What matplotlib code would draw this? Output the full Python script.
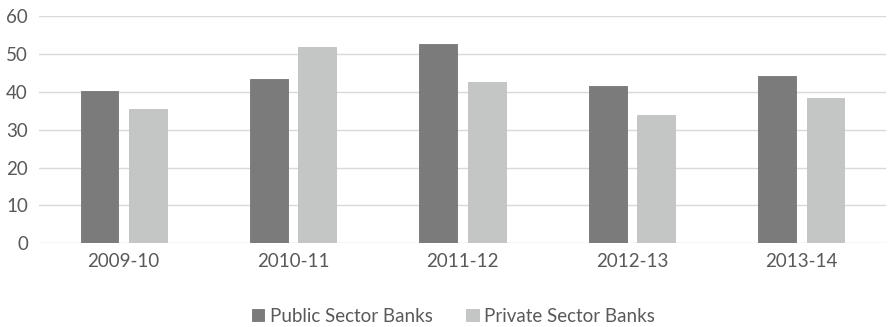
import numpy as np
import matplotlib.pyplot as plt

years = ['2009-10', '2010-11', '2011-12', '2012-13', '2013-14']
public_banks = [40.2, 43.3, 52.7, 41.4, 44.1]
private_banks = [35.4, 51.7, 42.6, 33.9, 38.3]

plt.rcParams['font.family'] = ['Lato', 'DejaVu Sans']
txt = '#595959'

fig = plt.figure(figsize=(8.88, 3.27), dpi=100)
ax = fig.add_axes([39/888, 1 - 243.3/327, 847/888, (243.3 - 16)/327])

x = np.arange(len(years))
w = 0.223
off = 0.143
ax.bar(x - off, public_banks, width=w, color='#7b7b7b', edgecolor='#757575',
       linewidth=0.6, label='Public Sector Banks', zorder=3)
ax.bar(x + off, private_banks, width=w, color='#c4c6c5', edgecolor='#bfc1c0',
       linewidth=0.6, label='Private Sector Banks', zorder=3)

ax.set_xlim(-0.5, len(years) - 0.5)
ax.set_ylim(0, 60)
ax.set_yticks(np.arange(0, 61, 10))
ax.set_xticks(x)
ax.set_xticklabels(years)
ax.grid(axis='y', color='#d9d9d9', linewidth=1.0, zorder=0)
for s in ax.spines.values():
    s.set_visible(False)
ax.tick_params(axis='both', length=0, labelsize=13.5, colors=txt)
ax.tick_params(axis='y', pad=8)
ax.tick_params(axis='x', pad=7)

fig.legend(loc='center', bbox_to_anchor=(453.5/888, 1 - 316/327), ncol=2,
           frameon=False, fontsize=13.5, labelcolor=txt, handlelength=0.65,
           handleheight=0.65, handletextpad=0.3, columnspacing=1.8)

fig.savefig('out.png', dpi=100)
